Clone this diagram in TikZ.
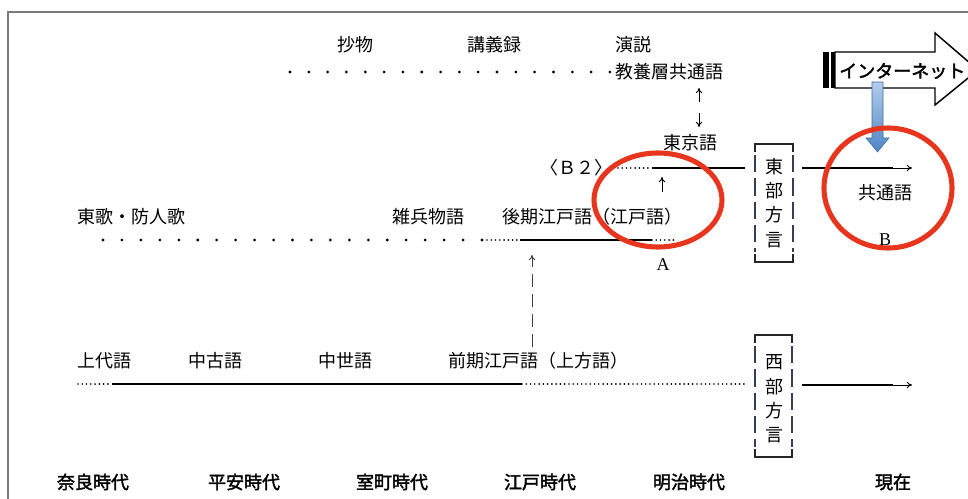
\documentclass[tikz,border=0pt]{standalone}
\usepackage{fontspec}
\newfontfamily\jp{Noto Sans CJK JP}
\newfontfamily\jpb{Noto Sans CJK JP}[FakeBold=2]
\newfontfamily\lat{Liberation Serif}
\usetikzlibrary{arrows.meta}
\definecolor{ringred}{HTML}{E8361E}
\definecolor{bordergray}{HTML}{7A7A7A}
\definecolor{bracketcol}{HTML}{3A3A5A}
\definecolor{bluetop}{HTML}{B3CCEB}
\definecolor{bluebot}{HTML}{4F86C6}
\begin{document}
\begin{tikzpicture}[x=0.75pt,y=-0.75pt,
  txt/.style={font=\jp\fontsize{13.5}{16}\selectfont, inner sep=0pt},
  era/.style={font=\jpb\fontsize{13.5}{16}\selectfont, inner sep=0pt},
  lattxt/.style={font=\lat\fontsize{13.5}{16}\selectfont, inner sep=0pt},
  thickline/.style={line width=2pt},
  smalldots/.style={line width=1.4pt, dash pattern=on 0pt off 3.2pt, line cap=round},
  thinarrow/.style={line width=0.7pt, -{To[length=4pt,width=5pt]}},
  dasharrow/.style={line width=0.7pt, draw=black!75, dash pattern=on 10pt off 5pt, -{To[length=4pt,width=5pt]}},
  redring/.style={draw=ringred, line width=3.8pt},
  bracketend/.style={line width=0.8pt, draw=black!85},
  bracketside/.style={line width=0.8pt, draw=bracketcol, dash pattern=on 13pt off 4.5pt},
]
\useasboundingbox (0,0) rectangle (968,499);
\clip (0,0) rectangle (968,499);

% border
\draw[draw=bordergray, line width=1.5pt] (8,499) -- (8,12) -- (968,12);

% ---------- top row ----------
\node[txt] (shomono) at (355,45) {抄物};
\node[txt] (kogiroku) at (494,45) {講義録};
\node[txt, anchor=west] (enzetsu) at (615,45) {演説};
\node[txt, anchor=west] (kyoyo) at (615,72) {教養層共通語};
\foreach \i in {0,...,17} \fill ({290+\i*18.82},72) circle (1.15pt);

% double arrow
\coordinate (ua1) at (699,102); \coordinate (ua2) at (699,88);
\coordinate (da1) at (699,113); \coordinate (da2) at (699,127);
\draw[thinarrow] (ua1) -- (ua2);
\draw[thinarrow] (da1) -- (da2);

\node[txt] (tokyogo) at (690,143) {東京語};

% ---------- B2 row ----------
\node[txt] (b2) at (576,168) {〈Ｂ２〉};
\coordinate (b2a) at (618,168); \coordinate (b2b) at (652,168); \coordinate (b2c) at (745,168);
\draw[smalldots] (b2a) -- (b2b);
\draw[thickline] (b2b) -- (b2c);
\coordinate (eb1) at (802,168); \coordinate (eb2) at (893,168); \coordinate (eb3) at (912,168);
\draw[thickline] (eb1) -- (eb2);
\draw[thinarrow] (eb2) -- (eb3);

\coordinate (sa1) at (662,192); \coordinate (sa2) at (662,177);
\draw[thinarrow] (sa1) -- (sa2);

% ---------- middle row ----------
\node[txt, anchor=west] (azuma) at (77,217) {東歌・防人歌};
\node[txt] (zohyo) at (428,217) {雑兵物語};
\node[txt, anchor=west] (koki) at (502,217) {後期江戸語（江戸語）};
\foreach \i in {0,...,20} \fill ({103+\i*18.95},240) circle (1.15pt);
\coordinate (m1) at (487,240); \coordinate (m2) at (520,240);
\coordinate (m3) at (652,240); \coordinate (m4) at (676,240);
\draw[smalldots] (m1) -- (m2);
\draw[thickline] (m2) -- (m3);
\draw[smalldots] (m3) -- (m4);
\node[lattxt] (labA) at (663,265) {A};

% dashed arrow
\coordinate (dbot) at (532,347); \coordinate (dtop) at (532,255);
\draw[dasharrow] (dbot) -- (dtop);

% ---------- bottom row ----------
\node[txt, anchor=west] (jodai) at (77,361) {上代語};
\node[txt] (chuko) at (215,361) {中古語};
\node[txt] (chusei) at (345,361) {中世語};
\node[txt, anchor=west] (zenki) at (448,361) {前期江戸語（上方語）};
\coordinate (l1) at (78,384); \coordinate (l2) at (112,384);
\coordinate (l3) at (522,384); \coordinate (l4) at (745,384);
\draw[smalldots] (l1) -- (l2);
\draw[thickline] (l2) -- (l3);
\draw[smalldots] (l3) -- (l4);
\coordinate (w1) at (802,385); \coordinate (w2) at (893,385); \coordinate (w3) at (912,385);
\draw[thickline] (w1) -- (w2);
\draw[thinarrow] (w2) -- (w3);

% ---------- dialect brackets ----------
% east
\draw[bracketend] (755,152) -- (755,144) -- (793,144) -- (793,152);
\draw[bracketend] (755,254) -- (755,262) -- (793,262) -- (793,254);
\draw[bracketside] (755,155) -- (755,252);
\draw[bracketside] (793,155) -- (793,252);
\node[txt] (e1) at (774,167) {東};
\node[txt] (e2) at (774,191) {部};
\node[txt] (e3) at (774,215) {方};
\node[txt] (e4) at (774,240) {言};
% west
\draw[bracketend] (755,343) -- (755,335) -- (792,335) -- (792,343);
\draw[bracketend] (755,449) -- (755,457) -- (792,457) -- (792,449);
\draw[bracketside] (755,346) -- (755,447);
\draw[bracketside] (792,346) -- (792,447);
\node[txt] (w1t) at (774,362) {西};
\node[txt] (w2t) at (774,387) {部};
\node[txt] (w3t) at (774,411) {方};
\node[txt] (w4t) at (774,435) {言};

% ---------- common language ----------
\node[txt] (kyotsu) at (885,193) {共通語};
\node[lattxt] (labB) at (885,240) {B};

% ---------- eras ----------
\node[era] (nara) at (93,482) {奈良時代};
\node[era] (heian) at (244,482) {平安時代};
\node[era] (muro) at (392,482) {室町時代};
\node[era] (edo) at (540,482) {江戸時代};
\node[era] (meiji) at (689,482) {明治時代};
\node[era] (genzai) at (893,482) {現在};

% ---------- internet arrow ----------
\fill[black] (823,52) rectangle (829,88);
\fill[black] (831,52) rectangle (835,88);
\draw[line width=1.1pt, fill=white] (835,52) -- (935,52) -- (935,33) -- (978,70) -- (935,105) -- (935,88) -- (835,88) -- cycle;
\node[era, anchor=west] (inet) at (839,71) {インターネット};

% blue arrow
\shade[top color=bluetop, bottom color=bluebot, draw=bluebot!80!black, line width=0.4pt]
  (872,82) -- (883,82) -- (883,138) -- (889,138) -- (877.5,152) -- (866,138) -- (872,138) -- cycle;

% ---------- red rings ----------
\draw[redring] (658,200) ellipse [x radius=64, y radius=47];
\draw[redring] (888,188) ellipse [x radius=64, y radius=60];
\end{tikzpicture}
\end{document}
